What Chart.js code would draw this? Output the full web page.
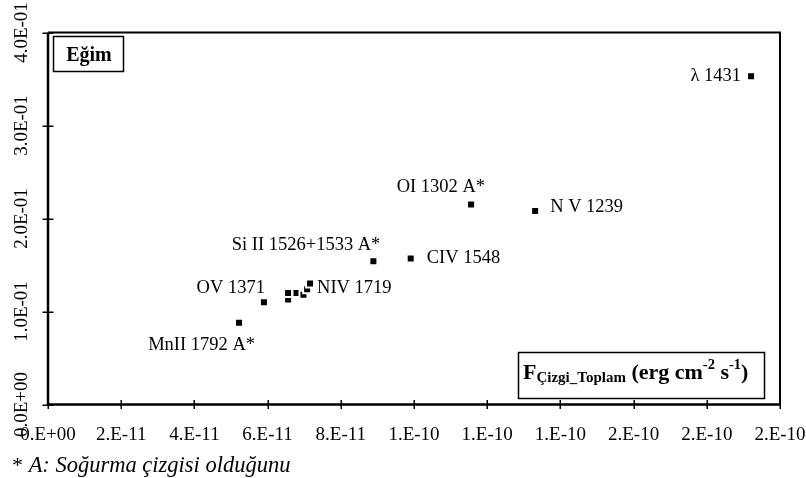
<!DOCTYPE html>
<html>
<head>
<meta charset="utf-8">
<script src="https://cdn.jsdelivr.net/npm/chart.js@4/dist/chart.umd.min.js"></script>
<style>
  html, body { margin: 0; padding: 0; background: #fff; }
  canvas { display: block; }
</style>
</head>
<body>
<canvas id="c" width="806" height="478"></canvas>
<script>
// Emission / absorption lines: total line flux vs. slope
const pointNames = ['MnII 1792 A*', 'OV 1371', '', '', '', '', '', 'NIV 1719',
  'Si II 1526+1533 A*', 'CIV 1548', 'OI 1302 A*', 'N V 1239', 'λ 1431'];
const lineFlux = [5.22e-11, 5.90e-11, 6.56e-11, 6.56e-11, 6.79e-11, 6.98e-11, 7.08e-11, 7.16e-11,
  8.89e-11, 9.91e-11, 1.156e-10, 1.331e-10, 1.921e-10];
const slopeValues = [0.088, 0.110, 0.113, 0.120, 0.120, 0.118, 0.124, 0.130,
  0.154, 0.157, 0.215, 0.208, 0.353];

const xTickValues = [0, 2e-11, 4e-11, 6e-11, 8e-11, 1e-10, 1.2e-10, 1.4e-10, 1.6e-10, 1.8e-10, 2e-10];
const xTickLabels = ['0.E+00', '2.E-11', '4.E-11', '6.E-11', '8.E-11', '1.E-10', '1.E-10', '1.E-10', '2.E-10', '2.E-10', '2.E-10'];
const yTickValues = [0, 0.1, 0.2, 0.3, 0.4];
const yTickLabels = ['0.0E+00', '1.0E-01', '2.0E-01', '3.0E-01', '4.0E-01'];

// Where each point name sits relative to its marker: [textAlign, dx, dy]
const labelPlacement = {
  0: ['right', 16, 22],
  1: ['right', 1, -14],
  7: ['left', 7, 5],
  8: ['right', 7, -16],
  9: ['left', 16, 0],
  10: ['right', 14, -17],
  11: ['left', 15, -4],
  12: ['right', -10, 0]
};

const SERIF = '"Liberation Serif", "Times New Roman", serif';

const framePlugin = {
  id: 'frame',
  beforeDatasetsDraw(chart) {
    const { ctx, chartArea: a, scales: { x, y } } = chart;
    ctx.save();
    ctx.strokeStyle = '#000';
    ctx.lineWidth = 2;
    // top and right border
    ctx.beginPath();
    ctx.moveTo(a.left, a.top); ctx.lineTo(a.right, a.top); ctx.lineTo(a.right, a.bottom);
    ctx.stroke();
    // axes
    ctx.lineWidth = 2.5;
    ctx.beginPath();
    ctx.moveTo(a.left, a.top); ctx.lineTo(a.left, a.bottom); ctx.lineTo(a.right, a.bottom);
    ctx.stroke();
    // tick marks crossing the axes
    ctx.lineWidth = 1.5;
    ctx.beginPath();
    xTickValues.forEach(v => {
      const px = Math.round(x.getPixelForValue(v)) + 0.25;
      ctx.moveTo(px, a.bottom - 4.5); ctx.lineTo(px, a.bottom + 4.5);
    });
    yTickValues.forEach(v => {
      const py = Math.round(y.getPixelForValue(v)) + 0.25;
      ctx.moveTo(a.left - 5.5, py); ctx.lineTo(a.left + 5.5, py);
    });
    ctx.stroke();

    // tick labels
    ctx.fillStyle = '#000';
    ctx.font = '19px ' + SERIF;
    ctx.textAlign = 'center';
    ctx.textBaseline = 'alphabetic';
    xTickValues.forEach((v, i) => {
      ctx.fillText(xTickLabels[i], x.getPixelForValue(v), 440);
    });
    yTickValues.forEach((v, i) => {
      ctx.save();
      ctx.translate(27, y.getPixelForValue(v));
      ctx.rotate(-Math.PI / 2);
      ctx.fillText(yTickLabels[i], 0, 0);
      ctx.restore();
    });

    // "Eğim" box
    ctx.lineWidth = 1.5;
    ctx.strokeRect(53.5, 36.5, 70, 35);
    ctx.font = 'bold 20px ' + SERIF;
    ctx.textAlign = 'center';
    ctx.fillText('Eğim', 89, 61);

    // x-axis title box
    ctx.strokeRect(518.5, 352.5, 246, 46);
    ctx.textAlign = 'left';
    let cx = 523;
    const put = (txt, font, base) => {
      ctx.font = font;
      ctx.fillText(txt, cx, base);
      cx += ctx.measureText(txt).width;
    };
    put('F', 'bold 22px ' + SERIF, 379);
    put('Çizgi_Toplam', 'bold 15px ' + SERIF, 382);
    put(' (erg cm', 'bold 22px ' + SERIF, 379);
    put('-2', 'bold 14.5px ' + SERIF, 369);
    put(' s', 'bold 22px ' + SERIF, 379);
    put('-1', 'bold 14.5px ' + SERIF, 369);
    put(')', 'bold 22px ' + SERIF, 379);

    // footnote
    cx = 12;
    put('*', '22px ' + SERIF, 472);
    put(' A: Soğurma çizgisi olduğunu', 'italic 22.5px ' + SERIF, 472);
    ctx.restore();
  },
  afterDatasetsDraw(chart) {
    const { ctx } = chart;
    const meta = chart.getDatasetMeta(0);
    ctx.save();
    ctx.fillStyle = '#000';
    ctx.font = '18.5px ' + SERIF;
    ctx.textBaseline = 'middle';
    meta.data.forEach((pt, i) => {
      const place = labelPlacement[i];
      if (!place || !pointNames[i]) return;
      ctx.textAlign = place[0];
      ctx.fillText(pointNames[i], pt.x + place[1], pt.y + place[2]);
    });
    ctx.restore();
  }
};

new Chart(document.getElementById('c'), {
  type: 'scatter',
  data: {
    datasets: [{
      data: lineFlux.map((v, i) => ({ x: v, y: slopeValues[i] })),
      pointStyle: 'rect',
      pointRadius: 5.657,
      pointBackgroundColor: '#000',
      pointBorderColor: '#fff',
      pointBorderWidth: 2
    }]
  },
  options: {
    responsive: false,
    animation: false,
    devicePixelRatio: 1,
    events: [],
    layout: { padding: { left: 48, right: 26, top: 32.5, bottom: 73.5 } },
    plugins: { legend: { display: false }, tooltip: { enabled: false } },
    scales: {
      x: { type: 'linear', min: 0, max: 2e-10, display: false },
      y: { type: 'linear', min: 0, max: 0.4, display: false }
    }
  },
  plugins: [framePlugin]
});
</script>
</body>
</html>
